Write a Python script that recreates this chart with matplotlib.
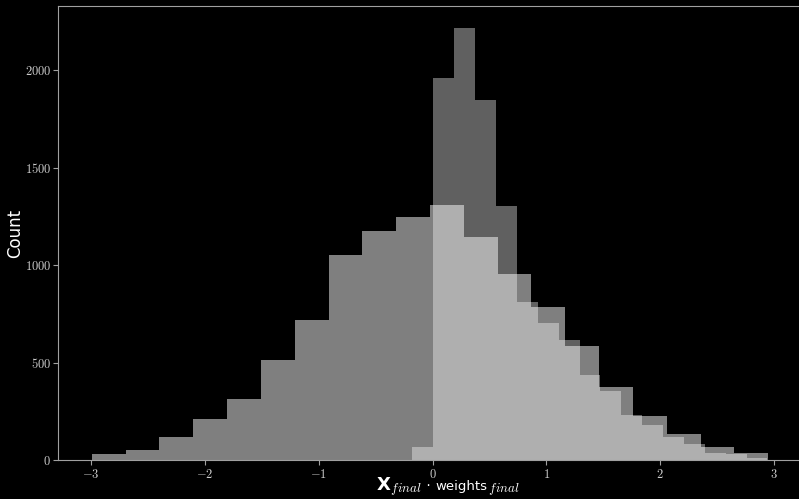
import matplotlib
matplotlib.use('Agg')
import matplotlib.pyplot as plt
from matplotlib.ticker import FuncFormatter
from matplotlib.offsetbox import TextArea, HPacker, AnchoredOffsetbox
import numpy as np

# x_final . weights_final, wide bins (drawn translucent on top)
pre_lo, pre_hi = -2.994, 2.950
pre_counts = [31, 51, 116, 212, 314, 511, 716, 1051, 1174, 1246,
              1309, 1147, 952, 786, 585, 376, 226, 133, 65, 34]

# second histogram, narrow bins, starts just below zero (drawn underneath)
post_lo, post_hi = -0.176, 2.944
post_counts = [68, 1963, 2219, 1850, 1304, 812, 701, 615, 436, 355,
               231, 179, 119, 82, 34, 31, 9]

x_ticks = [-3, -2, -1, 0, 1, 2, 3]
y_ticks = [0, 500, 1000, 1500, 2000]

plt.rcParams['mathtext.fontset'] = 'cm'

pre_edges = np.linspace(pre_lo, pre_hi, len(pre_counts) + 1)
post_edges = np.linspace(post_lo, post_hi, len(post_counts) + 1)

W, H = 799, 499
fig = plt.figure(figsize=(W / 100, H / 100), dpi=100, facecolor='black')
ax = fig.add_axes([58 / W, 39 / H, 744 / W, 454 / H], facecolor='black')

ax.stairs(post_counts, post_edges, fill=True, color='#606060')
ax.stairs(pre_counts, pre_edges, fill=True, color='white', alpha=0.5)

span = pre_hi - pre_lo
ax.set_xlim(pre_lo - 0.05 * span, pre_hi + 0.05 * span)
ax.set_ylim(0, max(max(pre_counts), max(post_counts)) * 1.05)

ax.set_xticks(x_ticks)
ax.set_yticks(y_ticks)
fmt = FuncFormatter(lambda v, p: '$%d$' % v)
ax.xaxis.set_major_formatter(fmt)
ax.yaxis.set_major_formatter(fmt)
ax.tick_params(colors='#a0a0a0', labelcolor='#cccccc', labelsize=9,
               length=3.5, width=0.8)
ax.tick_params(axis='y', pad=1.5)
ax.tick_params(axis='x', pad=2)
for s in ax.spines.values():
    s.set_color('#a0a0a0')
    s.set_linewidth(0.8)

fig.text(15.5 / W, 1 - 233 / H, 'Count', rotation=90, ha='center', va='center',
         color='white', fontsize=12)

# x label: big bold X, smaller "weights", cm italic subscripts
parts = [
    TextArea('X', textprops=dict(color='white', fontsize=13, fontweight='bold')),
    TextArea(r'$_{final}$', textprops=dict(color='white', fontsize=13.5)),
    TextArea(' \u00b7 ', textprops=dict(color='white', fontsize=10)),
    TextArea('weights', textprops=dict(color='white', fontsize=9.5)),
    TextArea(r'$_{final}$', textprops=dict(color='white', fontsize=13.5)),
]
box = HPacker(children=parts, align='baseline', pad=0, sep=0)
anc = AnchoredOffsetbox(loc='lower center', child=box, frameon=False, pad=0,
                        borderpad=0, bbox_to_anchor=(448 / W, 0.5 / H),
                        bbox_transform=fig.transFigure)
fig.add_artist(anc)

fig.savefig('out.png', dpi=100, facecolor='black')
